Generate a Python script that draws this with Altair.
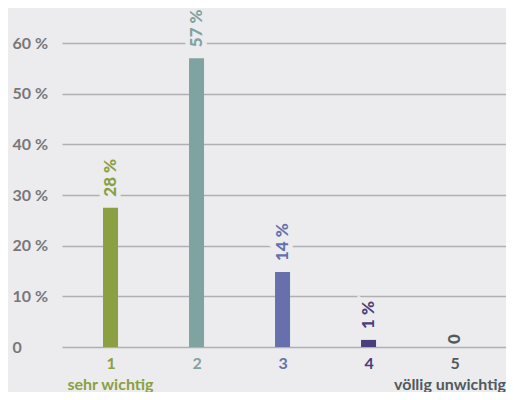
import altair as alt
import pandas as pd

categories = [1, 2, 3, 4, 5]
values = [27.5, 57.0, 14.8, 1.4, 0.0]
value_labels = ["28 %", "57 %", "14 %", "1 %", "0"]
sublabels = ["sehr wichtig", "", "", "", "völlig unwichtig"]
colors = ["#8aa043", "#7fa3a0", "#6570ad", "#4b3e7c", "#4f5a5e"]
y_ticks = [0, 10, 20, 30, 40, 50, 60]

BG = "#ececef"
FONT = "Lato"
HEAVY = "'Lato Black', Lato"
W, H = 444, 304

df = pd.DataFrame({"cat": categories, "val": values, "lab": value_labels, "sub": sublabels})

color_expr = " : ".join(
    f"datum.value == {c} ? '{col}'" for c, col in zip(categories, colors)
) + " : '#4f5a5e'"

xscale = alt.Scale(domain=[0.494, 5.54], nice=False, zero=False)
yscale = alt.Scale(domain=[0, 60], nice=False)
cscale = alt.Scale(domain=categories, range=colors)

x = alt.X(
    "cat:Q",
    scale=xscale,
    axis=alt.Axis(
        values=categories,
        title=None,
        grid=False,
        domain=False,
        ticks=False,
        format="d",
        labelColor={"expr": color_expr},
        labelFont=FONT,
        labelFontSize=16,
        labelFontWeight="bold",
        labelPadding=8,
        labelFlush=False,
        labelBaseline="top",
    ),
)
y = alt.Y(
    "val:Q",
    scale=yscale,
    axis=alt.Axis(
        values=y_ticks,
        title=None,
        grid=True,
        gridColor="#b0b0b4",
        gridWidth=1.3,
        domain=False,
        ticks=False,
        labelAlign="left",
        labelBaseline="middle",
        labelPadding=50,
        labelExpr="datum.value == 0 ? '0' : datum.value + ' %'",
        labelColor="#77777a",
        labelFont=FONT,
        labelFontSize=16,
        labelFontWeight="bold",
    ),
)
color = alt.Color("cat:N", scale=cscale, legend=None)

base = alt.Chart(df)

bars = base.mark_bar(size=15).encode(x=x, y=y, color=color)

nonzero = base.transform_filter("datum.val > 0")
zero = base.transform_filter("datum.val <= 0")

txt_kw = dict(angle=270, align="left", baseline="middle", font=HEAVY, fontSize=17, fontWeight=900)

halo = nonzero.mark_text(dx=9, stroke=BG, strokeWidth=9, fill=BG, **txt_kw).encode(
    x="cat:Q", y="val:Q", text="lab:N"
)
labels = nonzero.mark_text(dx=11, **txt_kw).encode(
    x="cat:Q", y="val:Q", text="lab:N", color=color
)
zero_label = zero.mark_text(dx=3, **txt_kw).encode(
    x="cat:Q", y="val:Q", text="lab:N", color=color
)

sub_kw = dict(baseline="top", font=FONT, fontSize=16, fontWeight="bold", dy=30)
sub_first = base.transform_filter(f"datum.cat == {categories[0]}").mark_text(
    align="center", **sub_kw
).encode(x="cat:Q", y=alt.value(H), text="sub:N", color=color)
sub_last = base.transform_filter(f"datum.cat == {categories[-1]}").mark_text(
    align="right", **sub_kw
).encode(x=alt.value(W), y=alt.value(H), text="sub:N", color=color)

chart = (
    alt.layer(bars, halo, labels, zero_label, sub_first, sub_last)
    .properties(
        width=W,
        height=H,
        autosize=alt.AutoSizeParams(type="none"),
        padding={"left": 54, "top": 35, "right": 0, "bottom": 45},
        background=BG,
    )
    .configure_view(stroke=None)
)

chart.save("out.html", embed_options={"renderer": "svg", "actions": False})
